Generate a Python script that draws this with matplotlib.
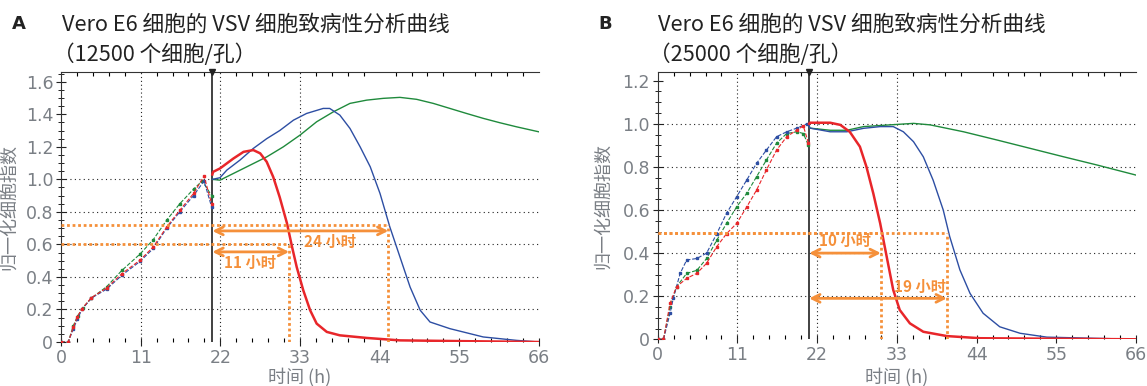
import matplotlib.pyplot as plt
import numpy as np

plt.rcParams['font.family'] = ['Noto Sans CJK SC', 'DejaVu Sans']

# ---- panel A (12500 cells/well) ----
a_red_t = [0, 1.0, 1.7, 2.25, 2.9, 4.2, 6.3, 8.4, 10.9, 12.75, 14.6, 16.4, 18.3, 19.75, 20.8,
           20.9, 21.0, 21.95, 23.8, 25.2, 26.55, 27.5, 28.4, 29.3, 30.2, 31.2, 31.9, 32.55, 33.45,
           34.4, 35.3, 36.7, 38.5, 42.2, 46.8, 56, 66]
a_red_v = [0, 0, 0.09, 0.154, 0.205, 0.273, 0.332, 0.42, 0.503, 0.585, 0.708, 0.81, 0.913, 1.02, 0.85,
           1.03, 1.046, 1.067, 1.128, 1.169, 1.18, 1.16, 1.108, 1.015, 0.89, 0.73, 0.585, 0.46, 0.318,
           0.195, 0.113, 0.062, 0.041, 0.025, 0.01, 0.005, 0.0]
a_blue_t = [0, 1.0, 1.7, 2.25, 2.9, 4.2, 6.3, 8.4, 10.9, 12.75, 14.6, 16.4, 18.3, 19.75, 20.8,
            20.9, 21.95, 22.9, 24.7, 26.55, 28.4, 30.2, 32.1, 33.9, 36.2, 37.1, 38.5, 39.9, 41.3,
            42.7, 44.05, 45.4, 46.8, 48.2, 49.6, 50.95, 53.7, 58.3, 62.9, 66]
a_blue_v = [0, 0, 0.08, 0.14, 0.2, 0.27, 0.325, 0.41, 0.495, 0.575, 0.7, 0.8, 0.9, 0.99, 0.83,
            1.0, 1.01, 1.057, 1.118, 1.19, 1.25, 1.30, 1.364, 1.405, 1.436, 1.436, 1.395, 1.313, 1.2,
            1.077, 0.913, 0.708, 0.523, 0.338, 0.195, 0.123, 0.082, 0.031, 0.01, 0.0]
a_green_t = [0, 1.0, 1.7, 2.3, 3.0, 4.2, 6.3, 8.4, 10.9, 12.75, 14.6, 16.4, 18.3, 19.5, 20.8,
             20.9, 21.95, 23.8, 26.1, 28.4, 30.7, 33.0, 35.3, 37.6, 39.9, 42.2, 44.5, 46.8, 49.1,
             51.4, 53.7, 56, 58.3, 60.6, 62.9, 66]
a_green_v = [0, 0, 0.1, 0.16, 0.21, 0.27, 0.34, 0.44, 0.54, 0.63, 0.75, 0.85, 0.94, 0.99, 0.9,
             1.0, 0.995, 1.036, 1.087, 1.138, 1.2, 1.272, 1.354, 1.415, 1.467, 1.487, 1.498, 1.504, 1.492,
             1.467, 1.436, 1.405, 1.375, 1.348, 1.323, 1.292]

# ---- panel B (25000 cells/well) ----
b_red_t = [0, 0.8, 1.7, 2.6, 4.0, 5.4, 6.75, 8.15, 9.5, 10.9, 12.3, 13.65, 15.0, 16.4, 17.8, 19.2, 20.1, 20.8,
           20.9, 21.0, 23.8, 25.2, 26.5, 27.9, 28.8, 29.75, 30.7, 31.6, 32.5, 33.4, 34.8, 36.65, 39.9, 44.5, 66]
b_red_v = [0, 0, 0.167, 0.244, 0.283, 0.306, 0.353, 0.43, 0.49, 0.538, 0.615, 0.693, 0.786, 0.878, 0.94, 0.971, 0.99, 0.91,
           1.0, 1.005, 1.005, 0.995, 0.963, 0.894, 0.801, 0.677, 0.538, 0.383, 0.229, 0.136, 0.074, 0.035, 0.015, 0.005, 0.0]
b_blue_t = [0, 0.8, 1.7, 2.15, 3.1, 4.0, 5.4, 6.75, 8.15, 9.5, 10.9, 12.3, 13.65, 15.0, 16.4, 17.8, 19.2, 20.6,
            20.9, 21.0, 23.8, 26.1, 28.4, 30.7, 32.5, 33.9, 35.3, 36.65, 38.0, 39.4, 40.3, 41.7, 43.1, 44.9,
            47.2, 50.0, 53.7, 66]
b_blue_v = [0, 0, 0.12, 0.19, 0.306, 0.368, 0.375, 0.4, 0.49, 0.585, 0.662, 0.74, 0.817, 0.878, 0.94, 0.963, 0.98, 1.0,
            0.99, 0.98, 0.963, 0.963, 0.979, 0.987, 0.987, 0.963, 0.917, 0.847, 0.739, 0.6, 0.476, 0.322, 0.213, 0.121,
            0.058, 0.028, 0.01, 0.0]
b_green_t = [0, 0.8, 1.7, 2.6, 4.0, 5.4, 6.75, 8.15, 9.5, 10.9, 12.3, 13.65, 15.0, 16.4, 17.8, 19.2, 20.1, 20.8,
             20.9, 21.0, 23.8, 26.1, 28.4, 32.05, 35.3, 37.6, 42.2, 46.8, 51.4, 56, 60.6, 66]
b_green_v = [0, 0, 0.15, 0.244, 0.306, 0.32, 0.375, 0.46, 0.538, 0.615, 0.678, 0.755, 0.832, 0.91, 0.955, 0.963, 0.955, 0.9,
             0.99, 0.98, 0.97, 0.97, 0.987, 0.995, 1.002, 0.995, 0.963, 0.925, 0.886, 0.847, 0.809, 0.762]

# annotations
t_add = 20.9
a_levels = [0.605, 0.722]      # dotted orange levels
a_cross = [31.5, 45.2]         # where they cross red / blue
a_arrow_y = [0.554, 0.683]
a_labels = ['11 小时', '24 小时']
a_label_pos = [(26.1, 0.486), (37.1, 0.615)]

b_levels = [0.495, 0.495]
b_cross = [30.8, 39.9]
b_arrow_y = [0.40, 0.19]
b_labels = ['10 小时', '19 小时']
b_label_pos = [(25.85, 0.456), (36.2, 0.244)]

RED = '#e8262a'
BLUE = '#2d4ea3'
GREEN = '#1f8a3c'
ORANGE = '#f5903a'
GRAY = '#7a7f85'

fig = plt.figure(figsize=(11.47, 3.86), dpi=100)
axA = fig.add_axes([61 / 1147, 1 - 342 / 386, 478 / 1147, 270 / 386])
axB = fig.add_axes([657.7 / 1147, 1 - 339.3 / 386, 478.3 / 1147, 267 / 386])


def draw(ax, red, blue, green, ymax, yticks, ylabels, levels, cross, arrow_y, labels, label_pos,
         ylab_x, xlab_y):
    for (t, v), c, lw in [(green, GREEN, 1.0), (blue, BLUE, 1.0), (red, RED, 1.8)]:
        t = np.array(t)
        v = np.array(v)
        pre = t <= t_add - 0.05
        ax.plot(t[pre], v[pre], color=c, lw=0.8, ls='--', marker='s', ms=1.8, zorder=3)
        ax.plot(t[~pre], v[~pre], color=c, lw=lw, zorder=3)

    # grid (only parts)
    for gx in [11, 22, 33]:
        ax.axvline(gx, color='#222', lw=0.8, ls=(0, (1, 2.5)), zorder=1)
    for gy in [0.2, 0.4, 0.6, 0.8, 1.0]:
        ax.axhline(gy, color='#222', lw=0.8, ls=(0, (1, 3)), zorder=1)

    ax.axvline(t_add, color='#333', lw=1.3, zorder=2)
    ax.plot([t_add], [ymax], marker='v', color='#222', ms=4, clip_on=False, zorder=5)

    # orange annotations
    for lev, xc, ay, lab, (lx, ly) in zip(levels, cross, arrow_y, labels, label_pos):
        ax.plot([0, xc], [lev, lev], color=ORANGE, lw=2, ls=(0, (1, 1)), zorder=4)
        ax.plot([xc, xc], [0, lev], color=ORANGE, lw=2, ls=(0, (1, 1)), zorder=4)
        ax.annotate('', xy=(xc, ay), xytext=(t_add, ay),
                    arrowprops=dict(arrowstyle='<->', color=ORANGE, lw=2,
                                    shrinkA=0, shrinkB=0, mutation_scale=14), zorder=5)
        ax.text(lx, ly, lab, color=ORANGE, fontsize=11, fontweight='bold',
                ha='center', va='center', zorder=6)

    ax.set_xlim(0, 66)
    ax.set_ylim(0, ymax)
    ax.set_xticks([0, 11, 22, 33, 44, 55, 66])
    ax.set_xticks(np.arange(0, 66, 2.2), minor=True)
    ax.set_yticks(yticks)
    ax.set_yticklabels(ylabels)
    ax.set_yticks(np.arange(0, ymax, 0.05), minor=True)
    ax.tick_params(axis='both', labelsize=12.5, colors='#222', labelcolor=GRAY,
                   labelfontfamily='Liberation Sans Narrow')
    ax.tick_params(axis='x', which='major', direction='inout', length=6, width=0.8, top=False, pad=2)
    ax.tick_params(axis='x', which='minor', direction='in', length=3, width=0.8, top=True, bottom=True)
    ax.tick_params(axis='y', which='major', direction='inout', length=7, width=0.8, pad=2)
    ax.tick_params(axis='y', which='minor', direction='inout', length=4, width=0.6)
    ax.spines['right'].set_visible(False)
    ax.spines['bottom'].set_visible(False)
    ax.spines['left'].set_color('#333')
    ax.spines['top'].set_color('#333')
    ax.set_ylabel('归一化细胞指数', fontsize=13, color=GRAY)
    ax.set_xlabel('时间 (h)', fontsize=13, color=GRAY)
    ax.yaxis.set_label_coords(ylab_x, 0.5)
    ax.xaxis.set_label_coords(0.5, xlab_y)


draw(axA, (a_red_t, a_red_v), (a_blue_t, a_blue_v), (a_green_t, a_green_v), 1.66,
     [0, 0.2, 0.4, 0.6, 0.8, 1.0, 1.2, 1.4, 1.6], ['0', '0.2', '0.4', '0.6', '0.8', '1.0', '1.2', '1.4', '1.6'],
     a_levels, a_cross, a_arrow_y, a_labels, a_label_pos, -0.089, -0.094)
draw(axB, (b_red_t, b_red_v), (b_blue_t, b_blue_v), (b_green_t, b_green_v), 1.239,
     [0, 0.2, 0.4, 0.6, 0.8, 1.0, 1.2], ['0', '0.2', '0.4', '0.6', '0.8', '1.0', '1.2'],
     b_levels, b_cross, b_arrow_y, b_labels, b_label_pos, -0.096, -0.104)

# titles
fig.text(12 / 1147, 1 - 24 / 386, 'A', fontsize=13, fontweight='bold', color='#222', va='center',
         family=['DejaVu Sans'])
fig.text(62 / 1147, 1 - 25 / 386, 'Vero E6 细胞的 VSV 细胞致病性分析曲线', fontsize=15.6, color='#222', va='center')
fig.text(53 / 1147, 1 - 55 / 386, '（12500 个细胞/孔）', fontsize=15.6, color='#222', va='center')
fig.text(598 / 1147, 1 - 24 / 386, 'B', fontsize=13, fontweight='bold', color='#222', va='center',
         family=['DejaVu Sans'])
fig.text(658 / 1147, 1 - 25 / 386, 'Vero E6 细胞的 VSV 细胞致病性分析曲线', fontsize=15.6, color='#222', va='center')
fig.text(649 / 1147, 1 - 55 / 386, '（25000 个细胞/孔）', fontsize=15.6, color='#222', va='center')

fig.savefig('out.png', dpi=100)
